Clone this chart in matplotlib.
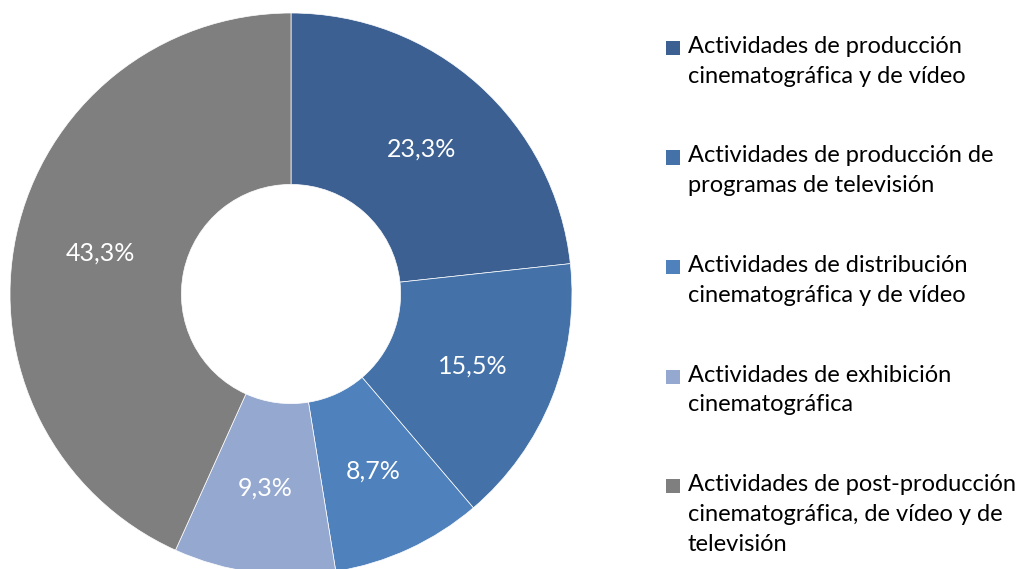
import matplotlib
matplotlib.use("Agg")
import matplotlib.pyplot as plt
from matplotlib.patches import Rectangle

plt.rcParams['font.family'] = ['Lato', 'DejaVu Sans']

labels = ["Actividades de producción\ncinematográfica y de vídeo",
          "Actividades de producción de\nprogramas de televisión",
          "Actividades de distribución\ncinematográfica y de vídeo",
          "Actividades de exhibición\ncinematográfica",
          "Actividades de post-producción\ncinematográfica, de vídeo y de\ntelevisión"]
values = [23.3, 15.5, 8.7, 9.3, 43.3]
colors = ["#3C6091", "#4472A8", "#4F81BD", "#95A9D0", "#7F7F7F"]

W, H = 1019, 569
fig = plt.figure(figsize=(W / 100, H / 100), dpi=100)

# donut: centre (291, 294) px, outer radius 281 px
cx, cy, r = 291, 294, 281
ax = fig.add_axes([(cx - r) / W, (H - cy - r) / H, 2 * r / W, 2 * r / H])
wedges, texts, autotexts = ax.pie(
    values, colors=colors, startangle=90, counterclock=False,
    autopct=lambda p: f"{p:.1f}%".replace(".", ","), pctdistance=0.695,
    wedgeprops=dict(width=0.61, edgecolor="white", linewidth=0.5),
    textprops=dict(color="white", fontsize=18))
ax.set_xlim(-1, 1)
ax.set_ylim(-1, 1)
ax.set_aspect("equal")

# legend on the right
for i, (lab, col) in enumerate(zip(labels, colors)):
    ytop = 48 + i * 109.5
    fig.patches.append(Rectangle((666 / W, 1 - (ytop + 7) / H), 14 / W, 14 / H,
                                 transform=fig.transFigure, facecolor=col,
                                 edgecolor="none"))
    fig.text(688 / W, 1 - (ytop - 12) / H, lab, fontsize=17, color="#000000",
             va="top", ha="left", linespacing=1.52)

fig.savefig("out.png", dpi=100)
